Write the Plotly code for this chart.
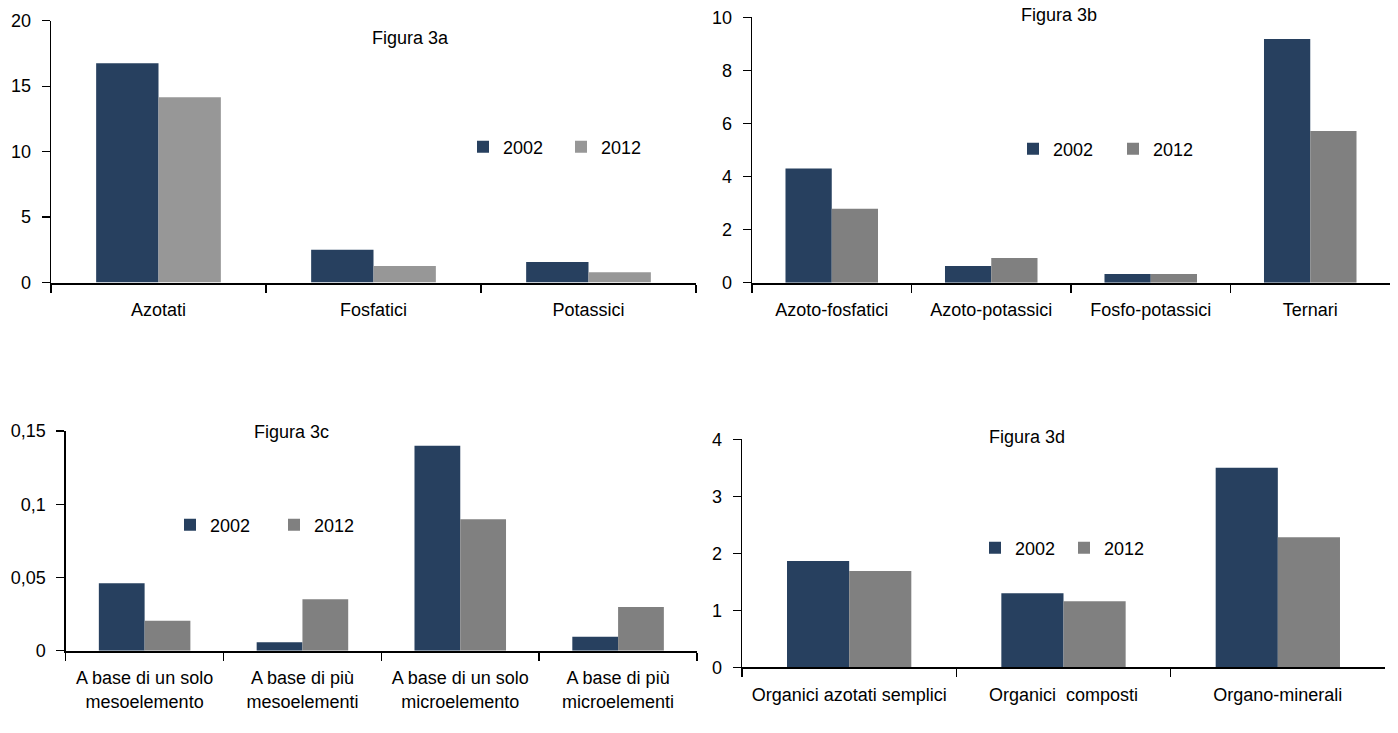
import plotly.graph_objects as go

# ---- data ----
years = ["2002", "2012"]

cat_a = ["Azotati", "Fosfatici", "Potassici"]
a_2002 = [16.75, 2.5, 1.56]
a_2012 = [14.15, 1.27, 0.79]

cat_b = ["Azoto-fosfatici", "Azoto-potassici", "Fosfo-potassici", "Ternari"]
b_2002 = [4.3, 0.63, 0.33, 9.18]
b_2012 = [2.79, 0.93, 0.33, 5.72]

cat_c = ["A base di un solo<br>mesoelemento", "A base di più<br>mesoelementi",
         "A base di un solo<br>microelemento", "A base di più<br>microelementi"]
c_2002 = [0.046, 0.0057, 0.14, 0.0095]
c_2012 = [0.0205, 0.0352, 0.0898, 0.0298]

cat_d = ["Organici azotati semplici", "Organici  composti", "Organo-minerali"]
d_2002 = [1.865, 1.30, 3.50]
d_2012 = [1.69, 1.16, 2.28]

titles = ["Figura 3a", "Figura 3b", "Figura 3c", "Figura 3d"]

# ---- style ----
FONT = "Liberation Sans, Arial, sans-serif"
FS = 18
NAVY = "#27405f"
GREY_A = "#979797"
GREY = "#808080"
W, H = 1398, 733

def px(x):
    return x / W

def py(y):
    return 1 - y / H

# legend: marker left edge position (px), spacing between entries (px)
panels = [
    dict(cats=cat_a, v1=a_2002, v2=a_2012, grey=GREY_A, xd=(51, 696), yd=(20.7, 282.5),
         yr=[0, 20], dtick=5, leg=(477, 147), sp=98, title=(410, 38)),
    dict(cats=cat_b, v1=b_2002, v2=b_2012, grey=GREY, xd=(752, 1390), yd=(17.3, 282.7),
         yr=[0, 10], dtick=2, leg=(1027, 149), sp=100, title=(1059, 15)),
    dict(cats=cat_c, v1=c_2002, v2=c_2012, grey=GREY, xd=(65.7, 697), yd=(431, 650.7),
         yr=[0, 0.15], dtick=0.05, leg=(184, 525), sp=104, title=(291, 432)),
    dict(cats=cat_d, v1=d_2002, v2=d_2012, grey=GREY, xd=(742, 1385), yd=(439.3, 667.3),
         yr=[0, 4], dtick=1, leg=(989, 548), sp=89, title=(1027, 437)),
]

fig = go.Figure()
layout = dict(
    width=W, height=H, margin=dict(l=0, r=0, t=0, b=0),
    paper_bgcolor="white", plot_bgcolor="white",
    font=dict(family=FONT, size=FS, color="black"),
    barmode="group", bargap=0.42, bargroupgap=0,
    separators=",.",
    showlegend=True,
    annotations=[],
)

for i, p in enumerate(panels):
    n = "" if i == 0 else str(i + 1)
    xa, ya = "x" + n, "y" + n
    lg = "legend" + n
    fig.add_trace(go.Bar(x=p["cats"], y=p["v1"], name=years[0], marker_color=NAVY,
                         marker_line_width=0, xaxis=xa, yaxis=ya, legend=lg))
    fig.add_trace(go.Bar(x=p["cats"], y=p["v2"], name=years[1], marker_color=p["grey"],
                         marker_line_width=0, xaxis=xa, yaxis=ya, legend=lg))
    layout["xaxis" + n] = dict(
        domain=[px(p["xd"][0]), px(p["xd"][1])], anchor=ya,
        showline=True, linecolor="black", linewidth=2,
        ticks="outside", tickson="boundaries", ticklen=8, tickwidth=1.5, tickcolor="black",
        ticklabelstandoff=10,
        showgrid=False, zeroline=False, fixedrange=True, automargin=False, tickangle=0,
        tickfont=dict(family=FONT, size=FS),
    )
    layout["yaxis" + n] = dict(
        domain=[py(p["yd"][1]), py(p["yd"][0])], anchor=xa,
        range=p["yr"], dtick=p["dtick"], tick0=0,
        showline=True, linecolor="black", linewidth=1.3,
        ticks="outside", ticklen=8, tickwidth=1.3, tickcolor="black",
        ticklabelstandoff=7,
        showgrid=False, zeroline=False, fixedrange=True, automargin=False,
        tickfont=dict(family=FONT, size=FS),
    )
    layout[lg] = dict(
        orientation="h", x=px(p["leg"][0] - 14), y=py(p["leg"][1]),
        xanchor="left", yanchor="middle", bgcolor="rgba(0,0,0,0)",
        font=dict(family=FONT, size=FS), entrywidth=p["sp"] - 45, entrywidthmode="pixels",
        traceorder="normal", itemclick=False, itemdoubleclick=False,
    )
    layout["annotations"].append(dict(
        text=titles[i], x=px(p["title"][0]), y=py(p["title"][1]),
        xref="paper", yref="paper", xanchor="center", yanchor="middle",
        showarrow=False, font=dict(family=FONT, size=FS),
    ))

fig.update_layout(**layout)
fig.write_html("out.html", config={"displayModeBar": False, "staticPlot": True},
               post_script="document.body.style.margin='0px';")
